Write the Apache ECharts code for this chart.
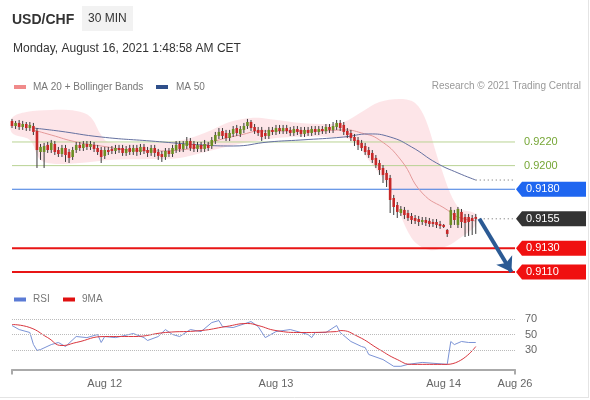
<!DOCTYPE html>
<html><head><meta charset="utf-8">
<script src="https://cdn.jsdelivr.net/npm/echarts@6/dist/echarts.min.js"></script>
<style>html,body{margin:0;padding:0;background:#fff}#c{width:590px;height:400px}</style>
</head><body><div id="c"></div>
<script>
const FONT = '"Liberation Sans", Arial, Helvetica, sans-serif';

// x axis: candle slots (30 min) incl. empty future slots
const axisCount = 142;
const tickIdx = [26, 74, 121, 141];
const tickText = ['Aug 12', 'Aug 13', 'Aug 14', 'Aug 26'];

// candles: [open, close, low, high]
const candles = [
[0.92378,0.92335,0.92318,0.92395],[0.92335,0.92361,0.92310,0.92378],[0.92361,0.92327,0.92302,0.92386],[0.92327,0.92352,0.92302,0.92378],
[0.92352,0.92318,0.92293,0.92369],[0.92318,0.92344,0.92293,0.92369],[0.92335,0.92285,0.92259,0.92361],[0.92293,0.92132,0.91980,0.92318],
[0.92115,0.92158,0.92048,0.92183],[0.92115,0.92166,0.91980,0.92192],[0.92175,0.92132,0.92107,0.92200],[0.92132,0.92192,0.92107,0.92217],
[0.92183,0.92115,0.92090,0.92208],[0.92132,0.92098,0.92073,0.92158],[0.92098,0.92149,0.92073,0.92175],[0.92149,0.92090,0.92031,0.92175],
[0.92115,0.92065,0.92022,0.92141],[0.92073,0.92132,0.92048,0.92158],[0.92132,0.92175,0.92107,0.92200],[0.92175,0.92149,0.92124,0.92200],
[0.92149,0.92183,0.92124,0.92208],[0.92183,0.92158,0.92132,0.92208],[0.92158,0.92183,0.92132,0.92208],[0.92175,0.92141,0.92115,0.92200],
[0.92149,0.92115,0.92090,0.92175],[0.92132,0.92073,0.92022,0.92158],[0.92082,0.92132,0.92056,0.92158],[0.92132,0.92115,0.92090,0.92158],
[0.92141,0.92124,0.92098,0.92166],[0.92124,0.92149,0.92098,0.92175],[0.92149,0.92132,0.92107,0.92175],[0.92149,0.92107,0.92082,0.92175],
[0.92107,0.92141,0.92082,0.92166],[0.92149,0.92115,0.92090,0.92175],[0.92115,0.92149,0.92090,0.92175],[0.92149,0.92115,0.92082,0.92175],
[0.92115,0.92158,0.92090,0.92183],[0.92158,0.92124,0.92098,0.92183],[0.92132,0.92107,0.92073,0.92158],[0.92107,0.92149,0.92082,0.92175],
[0.92149,0.92107,0.92073,0.92175],[0.92115,0.92082,0.92048,0.92141],[0.92098,0.92073,0.92031,0.92124],[0.92073,0.92124,0.92048,0.92149],
[0.92124,0.92098,0.92073,0.92149],[0.92098,0.92149,0.92073,0.92175],[0.92132,0.92175,0.92107,0.92208],[0.92183,0.92141,0.92115,0.92208],
[0.92141,0.92183,0.92115,0.92208],[0.92166,0.92208,0.92141,0.92242],[0.92208,0.92149,0.92124,0.92234],[0.92183,0.92141,0.92115,0.92208],
[0.92141,0.92175,0.92115,0.92200],[0.92175,0.92141,0.92115,0.92200],[0.92141,0.92183,0.92115,0.92217],[0.92175,0.92149,0.92124,0.92200],
[0.92166,0.92217,0.92141,0.92242],[0.92208,0.92259,0.92183,0.92285],[0.92251,0.92285,0.92225,0.92318],[0.92293,0.92251,0.92225,0.92318],
[0.92276,0.92234,0.92208,0.92302],[0.92234,0.92276,0.92208,0.92302],[0.92268,0.92310,0.92242,0.92335],[0.92318,0.92276,0.92251,0.92344],
[0.92268,0.92310,0.92242,0.92335],[0.92302,0.92335,0.92276,0.92361],[0.92335,0.92369,0.92310,0.92395],[0.92369,0.92318,0.92293,0.92386],
[0.92327,0.92293,0.92268,0.92352],[0.92302,0.92276,0.92251,0.92327],[0.92302,0.92242,0.92208,0.92327],[0.92276,0.92251,0.92225,0.92302],
[0.92251,0.92302,0.92225,0.92327],[0.92302,0.92285,0.92259,0.92327],[0.92285,0.92318,0.92259,0.92344],[0.92318,0.92293,0.92268,0.92344],
[0.92293,0.92318,0.92268,0.92344],[0.92318,0.92293,0.92268,0.92344],[0.92302,0.92276,0.92251,0.92327],[0.92276,0.92310,0.92251,0.92335],
[0.92310,0.92285,0.92259,0.92335],[0.92302,0.92268,0.92242,0.92327],[0.92268,0.92302,0.92242,0.92327],[0.92302,0.92276,0.92251,0.92327],
[0.92276,0.92310,0.92251,0.92335],[0.92310,0.92285,0.92259,0.92335],[0.92285,0.92310,0.92259,0.92335],[0.92310,0.92293,0.92268,0.92335],
[0.92293,0.92327,0.92268,0.92352],[0.92327,0.92302,0.92276,0.92352],[0.92302,0.92335,0.92276,0.92369],[0.92327,0.92361,0.92302,0.92386],
[0.92361,0.92318,0.92293,0.92386],[0.92344,0.92285,0.92259,0.92369],[0.92293,0.92259,0.92234,0.92318],[0.92276,0.92234,0.92208,0.92302],
[0.92242,0.92208,0.92166,0.92268],[0.92217,0.92175,0.92132,0.92242],[0.92192,0.92149,0.92124,0.92217],[0.92166,0.92115,0.92090,0.92192],
[0.92132,0.92090,0.92065,0.92158],[0.92107,0.92048,0.92022,0.92132],[0.92065,0.92005,0.91980,0.92090],[0.92022,0.91963,0.91921,0.92048],
[0.91980,0.91921,0.91853,0.92005],[0.91938,0.91878,0.91819,0.91963],[0.91895,0.91709,0.91599,0.91921],[0.91726,0.91650,0.91582,0.91752],
[0.91667,0.91608,0.91557,0.91692],[0.91599,0.91633,0.91574,0.91658],[0.91625,0.91582,0.91548,0.91650],[0.91599,0.91557,0.91532,0.91625],
[0.91574,0.91540,0.91506,0.91599],[0.91557,0.91532,0.91506,0.91582],[0.91548,0.91523,0.91489,0.91574],[0.91523,0.91540,0.91498,0.91565],
[0.91540,0.91515,0.91489,0.91565],[0.91532,0.91506,0.91481,0.91557],[0.91523,0.91506,0.91481,0.91548],[0.91523,0.91498,0.91472,0.91548],
[0.91506,0.91489,0.91464,0.91532],[0.91498,0.91481,0.91472,0.91506],[0.91455,0.91422,0.91396,0.91464],[0.91498,0.91625,0.91472,0.91650],
[0.91599,0.91540,0.91498,0.91625],[0.91498,0.91633,0.91472,0.91650],[0.91608,0.91523,0.91472,0.91633],[0.91565,0.91515,0.91396,0.91591],
[0.91565,0.91523,0.91405,0.91591],[0.91557,0.91532,0.91413,0.91582],[0.91565,0.91550,0.91422,0.91591]
];

// MA 20 (read at slot indices)
const ma20Idx = [6,11,18,25,33,41,47,53,58,64,70,75,81,86,93,98,103,109,115,122,125,130];
const ma20    = [0.92302,0.92259,0.92200,0.92166,0.92132,0.92124,0.92132,0.92166,0.92217,0.92259,0.92293,0.92293,0.92293,0.92293,0.92302,0.92276,0.92217,0.92048,0.91768,0.91625,0.91565,0.91532];
// MA 50
const ma50Idx = [6,13,25,39,53,62,72,81,93,100,106,112,119,125,130];
const ma50    = [0.92318,0.92293,0.92242,0.92208,0.92175,0.92166,0.92200,0.92217,0.92242,0.92268,0.92242,0.92158,0.92022,0.91938,0.91878];
// Bollinger bands
const bbUpIdx = [0,4,11,18,22,25,27,36,44,50,56,61,67,72,81,89,93,98,103,109,113,116,120,125,130];
const bbUp    = [0.92403,0.92454,0.92471,0.92462,0.92412,0.92259,0.92200,0.92192,0.92200,0.92234,0.92302,0.92369,0.92403,0.92395,0.92361,0.92352,0.92369,0.92454,0.92538,0.92564,0.92530,0.92386,0.92005,0.91650,0.91591];
const bbLoIdx = [0,5,8,13,22,27,39,47,53,61,70,78,89,95,100,106,112,117,122,126,130];
const bbLo    = [0.92276,0.92217,0.92048,0.92014,0.92031,0.92048,0.92056,0.92065,0.92107,0.92166,0.92217,0.92242,0.92242,0.92217,0.92048,0.91794,0.91388,0.91286,0.91320,0.91396,0.91498];

// RSI and its 9MA
const rsiIdx = [0,2,5,6,7,8,11,13,15,18,21,24,25,26,29,34,37,38,41,43,45,47,50,53,56,58,59,62,67,69,71,74,78,81,83,84,85,88,91,92,95,98,99,100,104,107,109,111,115,122,123,124,126,128,130];
const rsi    = [61.6,56.4,52.6,37.2,29.5,30.6,37,39.7,34.5,47.4,46,50,39.7,47.4,46,51.3,46,42.3,47.4,56.4,50,47.4,56.4,53.8,65.4,68,60.3,59,66.7,60.3,46,53.8,56.4,52.6,50,46,52.6,52.6,61.6,52.6,41,34.5,33.2,24.2,17.7,9,9,11.5,14,11.5,41,37,41,39.7,39.7];
const rsiMaIdx = [0,5,10,14,18,26,34,43,53,60,66,69,74,81,91,92,97,103,108,112,122,130];
const rsiMa    = [62.9,59,46,35.8,39.7,47.4,47.4,52.6,55.1,60.3,64.2,61.6,55.1,52.6,53.8,55.1,47.4,30.6,17.7,11.5,11.5,34.5];

// key levels
const levelValues = [0.9220, 0.9200, 0.9180, 0.9155, 0.9130, 0.9110];
const levelText   = ['0.9220','0.9200','0.9180','0.9155','0.9130','0.9110'];
const levelKind   = ['support2','support1','pivot','last','res1','res2'];
const rsiLevels = [70, 50, 30];

// ---------------------------------------------------------------
const cats = Array.from({length: axisCount}, (_, i) => {
  const k = tickIdx.indexOf(i); return k >= 0 ? tickText[k] : '';
});
const pairs = (idx, vals) => idx.map((i, k) => [i, vals[k]]);
const lastIdx = candles.length - 1;
const lastClose = candles[lastIdx][1];
const ma50Last = ma50[ma50.length - 1];

const UP = '#6b8e23', DOWN = '#c62828';
const levelStyle = {
  support2: { color: '#b9d394', width: 1 }, support1: { color: '#b9d394', width: 1 },
  pivot: { color: '#3c7ae0', width: 1 }, res1: { color: '#e81515', width: 2 }, res2: { color: '#e81515', width: 2 }
};

const levelSeries = levelValues.map((v, k) => levelStyle[levelKind[k]] ? {
  type: 'line', xAxisIndex: 0, yAxisIndex: 0, z: 2, silent: true, symbol: 'none',
  data: [[0, v], [axisCount - 1, v]],
  lineStyle: { color: levelStyle[levelKind[k]].color, width: levelStyle[levelKind[k]].width }
} : null).filter(Boolean);

const dottedSeries = [ma50Last, lastClose].map(v => ({
  type: 'line', xAxisIndex: 0, yAxisIndex: 0, z: 2, silent: true, symbol: 'none',
  data: [[lastIdx, v], [axisCount - 1, v]],
  lineStyle: { color: '#666', width: 1, type: [1, 3] }
}));

const option = {
  animation: false,
  backgroundColor: '#fff',
  textStyle: { fontFamily: FONT },
  grid: [
    { left: 12, right: 75, top: 94.7, bottom: 116.2 },
    { left: 12, right: 75, top: 295.75, bottom: 30.6 }
  ],
  xAxis: [
    { gridIndex: 0, type: 'category', data: cats, boundaryGap: false, show: false },
    { gridIndex: 1, type: 'category', data: cats, boundaryGap: false,
      axisLine: { lineStyle: { color: '#aaa', width: 2 } },
      axisTick: { show: true, length: 5, interval: (i) => i === 0 || i === axisCount - 1, lineStyle: { color: '#aaa', width: 2 } },
      axisLabel: { interval: (i) => tickIdx.indexOf(i) >= 0, color: '#666', fontSize: 11, margin: 9, fontFamily: FONT },
      splitLine: { show: false } }
  ],
  yAxis: [
    { gridIndex: 0, type: 'value', min: 0.9100, max: 0.9260, show: false },
    { gridIndex: 1, type: 'value', min: 5, max: 100, show: false }
  ],
  series: [
    { // Bollinger band fill
      type: 'custom', xAxisIndex: 0, yAxisIndex: 0, silent: true, z: 1, clip: false,
      data: [[0, 0]],
      renderItem: function (params, api) {
        const pts = [];
        bbUpIdx.forEach((i, k) => pts.push(api.coord([i, bbUp[k]])));
        for (let k = bbLoIdx.length - 1; k >= 0; k--) pts.push(api.coord([bbLoIdx[k], bbLo[k]]));
        return { type: 'polygon', shape: { points: pts, smooth: 0.35 },
                 style: { fill: 'rgba(248,170,178,0.30)', stroke: 'none' } };
      }
    },
    ...levelSeries,
    ...dottedSeries,
    { name: 'MA 20 + Bollinger Bands', type: 'line', xAxisIndex: 0, yAxisIndex: 0, z: 3,
      data: pairs(ma20Idx, ma20), smooth: true, symbol: 'none', silent: true,
      lineStyle: { color: '#e59a9a', width: 1 } },
    { name: 'MA 50', type: 'line', xAxisIndex: 0, yAxisIndex: 0, z: 3,
      data: pairs(ma50Idx, ma50), smooth: true, symbol: 'none', silent: true,
      lineStyle: { color: '#6470a0', width: 1 } },
    { // candles
      type: 'custom', xAxisIndex: 0, yAxisIndex: 0, z: 4, clip: false, silent: true,
      data: candles.map((d, i) => [i, d[0], d[1], d[2], d[3]]),
      encode: { x: 0, y: [1, 2, 3, 4] },
      renderItem: function (params, api) {
        const i = api.value(0), o = api.value(1), c = api.value(2), l = api.value(3), h = api.value(4);
        const pO = api.coord([i, o]), pC = api.coord([i, c]), pL = api.coord([i, l]), pH = api.coord([i, h]);
        const w = 2.6;
        const top = Math.min(pO[1], pC[1]), bot = Math.max(pO[1], pC[1]);
        return { type: 'group', children: [
          { type: 'line', shape: { x1: pH[0], y1: pH[1], x2: pL[0], y2: pL[1] }, style: { stroke: '#3a3a3a', lineWidth: 1 } },
          { type: 'rect', shape: { x: pO[0] - w / 2, y: top, width: w, height: Math.max(bot - top, 1) },
            style: { fill: c >= o ? UP : DOWN } }
        ] };
      }
    },
    { // arrow towards target
      type: 'line', xAxisIndex: 0, yAxisIndex: 0, data: [], z: 5,
      markLine: { silent: true, animation: false, label: { show: false },
        data: [[{ coord: [lastIdx + 1, lastClose], symbol: 'none' },
                { coord: [axisCount - 2, levelValues[5]], symbol: 'arrow', symbolSize: [14, 14] }]],
        lineStyle: { color: '#2b5a94', width: 4, type: 'solid' } }
    },
    { name: 'RSI', type: 'line', xAxisIndex: 1, yAxisIndex: 1, data: pairs(rsiIdx, rsi),
      symbol: 'none', silent: true, lineStyle: { color: '#7b93d6', width: 1 },
      markLine: { silent: true, symbol: 'none', animation: false,
        lineStyle: { color: '#bbb', width: 1, type: 'dotted' },
        label: { show: true, position: 'end', distance: 10, color: '#666', fontSize: 11, fontFamily: FONT, formatter: (p) => String(p.value) },
        data: rsiLevels.map(v => ({ yAxis: v })) } },
    { name: '9MA', type: 'line', xAxisIndex: 1, yAxisIndex: 1, data: pairs(rsiMaIdx, rsiMa),
      smooth: true, symbol: 'none', silent: true, lineStyle: { color: '#d9363e', width: 1 } }
  ]
};

const chart = echarts.init(document.getElementById('c'));
chart.setOption(option);

// header, legends and level tags placed with the chart's own scales
const gRight = chart.convertToPixel({ xAxisIndex: 0 }, axisCount - 1);
const yOf = (v) => chart.convertToPixel({ yAxisIndex: 0 }, v);
const g = [];
const txt = (x, y, text, font, fill, align) => ({ type: 'text', x, y, silent: true,
  style: { text, font, fill, align: align || 'left', verticalAlign: 'middle' } });

g.push(txt(12, 20, 'USD/CHF', 'bold 14px ' + FONT, '#333'));
g.push({ type: 'rect', shape: { x: 82, y: 6, width: 51, height: 25 }, style: { fill: '#f2f2f2' }, silent: true });
g.push(txt(88, 19, '30 MIN', '12px ' + FONT, '#333'));
g.push(txt(13, 49, 'Monday, August 16, 2021 1:48:58 AM CET', '12px ' + FONT, '#333'));
// main legend
g.push({ type: 'rect', shape: { x: 14, y: 85, width: 12, height: 4 }, style: { fill: '#f08a8a' }, silent: true });
g.push(txt(33, 87, 'MA 20 + Bollinger Bands', '10px ' + FONT, '#777'));
g.push({ type: 'rect', shape: { x: 156, y: 85, width: 12, height: 4 }, style: { fill: '#2f4f8a' }, silent: true });
g.push(txt(176, 87, 'MA 50', '10px ' + FONT, '#777'));
g.push(txt(581, 86, 'Research \u00a9 2021 Trading Central', '10px ' + FONT, '#999', 'right'));
// RSI legend
g.push({ type: 'rect', shape: { x: 14, y: 297.5, width: 12, height: 4 }, style: { fill: '#5b7bd5' }, silent: true });
g.push(txt(33, 299.5, 'RSI', '10px ' + FONT, '#777'));
g.push({ type: 'rect', shape: { x: 63, y: 297.5, width: 12, height: 4 }, style: { fill: '#e01010' }, silent: true });
g.push(txt(82, 299.5, '9MA', '10px ' + FONT, '#777'));

const tagFill = { pivot: '#1f66f0', last: '#333333', res1: '#f01010', res2: '#f01010' };
levelValues.forEach((v, k) => {
  const y = yOf(v), kind = levelKind[k];
  if (kind === 'support1' || kind === 'support2') {
    g.push(txt(gRight + 9, y, levelText[k], '11px ' + FONT, '#76a636'));
  } else {
    const x0 = gRight + 1, x1 = gRight + 7, x2 = 586, h = 7.5;
    g.push({ type: 'polygon', silent: true, shape: { points: [[x0, y], [x1, y - h], [x2, y - h], [x2, y + h], [x1, y + h]] },
             style: { fill: tagFill[kind] } });
    g.push(txt(gRight + 11, y, levelText[k], '11px ' + FONT, '#fff'));
  }
});
// frame edges
g.push({ type: 'line', shape: { x1: 588.5, y1: 0, x2: 588.5, y2: 397 }, style: { stroke: '#e4e4e4', lineWidth: 1 }, silent: true });
g.push({ type: 'line', shape: { x1: 0, y1: 397.5, x2: 589, y2: 397.5 }, style: { stroke: '#e4e4e4', lineWidth: 1 }, silent: true });

chart.setOption({ graphic: g });
</script>
</body></html>
